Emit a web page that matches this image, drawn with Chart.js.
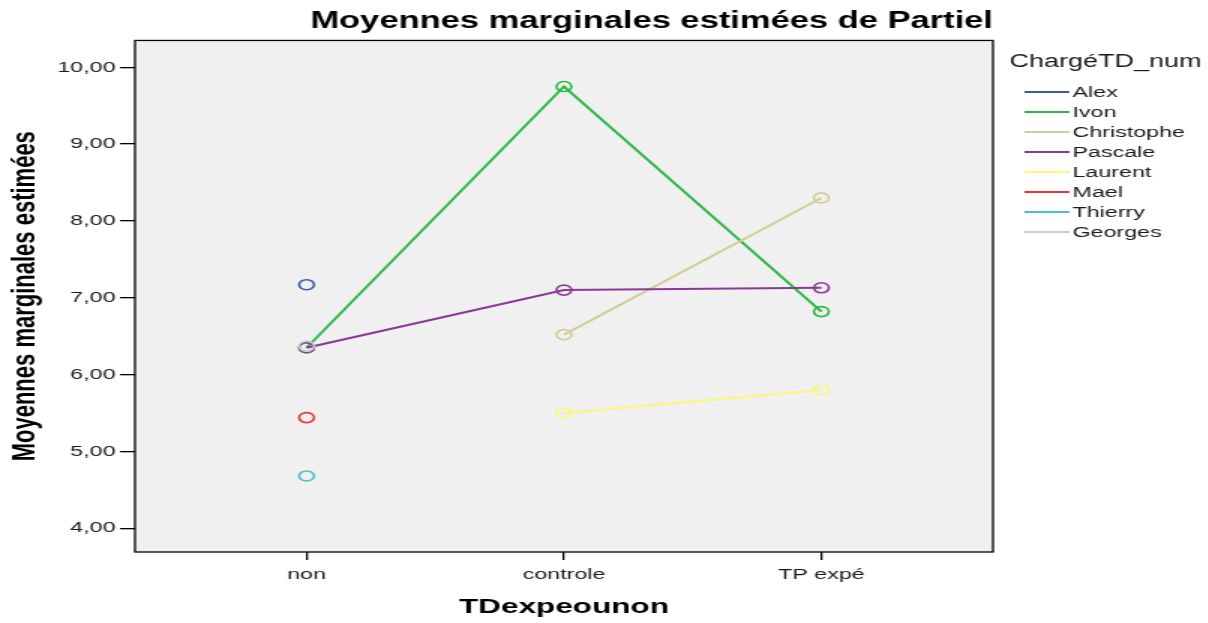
<!DOCTYPE html>
<html>
<head>
<meta charset="utf-8">
<script src="https://cdn.jsdelivr.net/npm/chart.js@4/dist/chart.umd.min.js"></script>
<style>
  body { margin: 0; background: #fff; overflow: hidden; }
  /* the reference picture is stretched sideways, so the canvas is too */
  #wrap { width: 805px; height: 623px; transform: scaleX(1.5); transform-origin: 0 0; }
  #chart { width: 805px; height: 623px; display: block; }
</style>
</head>
<body>
<div id="wrap"><canvas id="chart" width="805" height="623"></canvas></div>
<script>
const categories = ['non', 'controle', 'TP expé'];
const yTicks = [4, 5, 6, 7, 8, 9, 10];

const seriesNames = ['Alex', 'Ivon', 'Christophe', 'Pascale', 'Laurent', 'Mael', 'Thierry', 'Georges'];
const alex = [7.17, null, null];
const ivon = [6.35, 9.75, 6.82];
const christophe = [null, 6.52, 8.30];
const pascale = [6.35, 7.10, 7.13];
const laurent = [null, 5.50, 5.80];
const mael = [5.44, null, null];
const thierry = [4.68, null, null];
const georges = [6.37, null, null];
const seriesValues = [alex, ivon, christophe, pascale, laurent, mael, thierry, georges];
const seriesColors = ['#3e58ac', '#2eb848', '#d3ce97', '#8a3a94', '#fbf873', '#ef3338', '#48c2c5', '#cccccc'];

const font = 'Liberation Sans, Arial, sans-serif';

const datasets = seriesNames.map((name, i) => {
  const pts = [];
  seriesValues[i].forEach((v, j) => {
    if (v !== null) pts.push({ x: j, y: v });
  });
  return {
    label: name,
    data: pts,
    order: seriesNames.length - i, // later series on top, like SPSS
    borderColor: seriesColors[i],
    backgroundColor: 'transparent',
    borderWidth: 2,
    pointRadius: 5,
    pointBorderWidth: 1.6,
    pointBackgroundColor: 'transparent',
    pointBorderColor: seriesColors[i],
    tension: 0
  };
});

// grey plot background + black frame + legend on the right
const frame = {
  id: 'frame',
  beforeDraw(chart) {
    const a = chart.chartArea;
    const ctx = chart.ctx;
    ctx.save();
    ctx.fillStyle = '#f0f0f0';
    ctx.fillRect(a.left, a.top, a.right - a.left, a.bottom - a.top);
    ctx.restore();
  },
  afterDraw(chart) {
    const a = chart.chartArea;
    const ctx = chart.ctx;
    ctx.save();
    ctx.strokeStyle = '#000';
    ctx.lineWidth = 1.3;
    ctx.strokeRect(a.left, a.top, a.right - a.left, a.bottom - a.top);

    // legend
    ctx.fillStyle = '#1a1a1a';
    ctx.textBaseline = 'middle';
    ctx.textAlign = 'left';
    ctx.font = '18px ' + font;
    ctx.fillText('ChargéTD_num', 673, 62);
    ctx.font = '15.5px ' + font;
    chart.data.datasets.forEach((ds, i) => {
      const y = 92 + i * 20;
      ctx.strokeStyle = ds.borderColor;
      ctx.lineWidth = 2;
      ctx.beginPath();
      ctx.moveTo(683, y);
      ctx.lineTo(713, y);
      ctx.stroke();
      ctx.fillText(ds.label, 715, y + 1);
    });
    ctx.restore();
  }
};

new Chart(document.getElementById('chart'), {
  type: 'line',
  data: { datasets: datasets },
  plugins: [frame],
  options: {
    responsive: false,
    animation: false,
    devicePixelRatio: 1,
    layout: { padding: { right: 143, left: 0, top: 0, bottom: 0 } },
    plugins: {
      legend: { display: false },
      tooltip: { enabled: false },
      title: {
        display: true,
        text: 'Moyennes marginales estimées de Partiel',
        fullSize: false,
        align: 'end',
        color: '#000',
        font: { family: font, size: 23, weight: 'bold', lineHeight: 1.15 },
        padding: { top: 8, bottom: 6 }
      }
    },
    scales: {
      x: {
        type: 'linear',
        min: -2 / 3,
        max: 2 + 2 / 3,
        afterBuildTicks: (scale) => { scale.ticks = categories.map((c, i) => ({ value: i })); },
        afterFit: (scale) => { scale.height = 71; },
        ticks: {
          autoSkip: false,
          maxRotation: 0,
          padding: 5,
          color: '#1a1a1a',
          font: { family: font, size: 15.5 },
          callback: (v) => categories[v]
        },
        grid: { drawOnChartArea: false, drawTicks: true, tickLength: 8, color: '#000', lineWidth: 1.3 },
        border: { display: false },
        title: {
          display: true,
          text: 'TDexpeounon',
          color: '#000',
          font: { family: font, size: 21, weight: 'bold' },
          padding: { top: 0, bottom: 3 }
        }
      },
      y: {
        min: 3.69,
        max: 10.35,
        afterBuildTicks: (scale) => { scale.ticks = yTicks.map(v => ({ value: v })); },
        afterFit: (scale) => { scale.width = 90; },
        ticks: {
          padding: 3,
          color: '#1a1a1a',
          font: { family: font, size: 15.5 },
          callback: (v) => v.toFixed(2).replace('.', ',')
        },
        grid: { drawOnChartArea: false, drawTicks: true, tickLength: 10, color: '#000', lineWidth: 1.3 },
        border: { display: false },
        title: {
          display: true,
          text: 'Moyennes marginales estimées',
          color: '#000',
          font: { family: font, size: 22, weight: 'bold' },
          padding: { top: 4, bottom: 0 }
        }
      }
    }
  }
});
</script>
</body>
</html>
